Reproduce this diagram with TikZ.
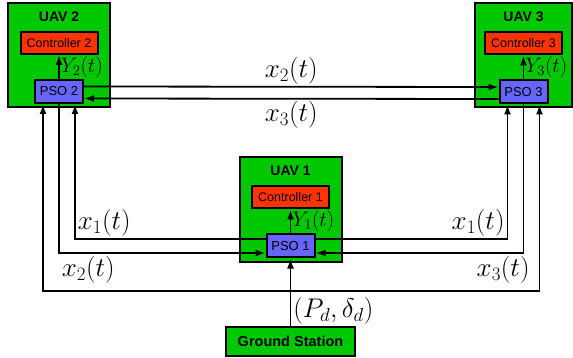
\RequirePackage{fix-cm}
\documentclass[tikz,border=0pt]{standalone}
\usepackage{fontspec}
\setmainfont{Liberation Sans}
\usepackage{xcolor}
\usepackage{tikz}
\usetikzlibrary{positioning,arrows.meta,calc}

\definecolor{uavgreen}{RGB}{0,200,0}
\definecolor{ctrlred}{RGB}{255,51,0}
\definecolor{psoblue}{RGB}{102,102,255}

\begin{document}
\begin{tikzpicture}[x=1pt, y=-1pt,
  uavbox/.style={rectangle, draw, fill=uavgreen, line width=2pt, minimum width=102pt, minimum height=104pt},
  uavtitle/.style={inner sep=0pt, font=\fontsize{14}{16}\selectfont\bfseries},
  ctrlbox/.style={rectangle, draw, fill=ctrlred, line width=2pt, minimum width=77pt, minimum height=22pt, inner sep=0pt, font=\fontsize{12.5}{14}\selectfont},
  psobox/.style={rectangle, draw, fill=psoblue, line width=2pt, minimum width=48pt, minimum height=23pt, inner sep=0pt, font=\fontsize{13}{14}\selectfont},
  gsbox/.style={rectangle, draw, fill=uavgreen, line width=2pt, minimum width=129pt, minimum height=29pt, inner sep=0pt, font=\fontsize{14.5}{16}\selectfont\bfseries},
  arrow/.style={-{Latex[length=10pt, width=7pt]}, line width=1.8pt},
  siglabel/.style={inner sep=2pt, font=\fontsize{27}{30}\selectfont},
  outlabel/.style={inner sep=1pt, font=\fontsize{21}{24}\selectfont}
  ]
  \useasboundingbox (0,0) rectangle (573,358);

  % the three UAVs
  \node[uavbox] (uav2) at (59,55) {};
  \node[ctrlbox, below=29pt of uav2.north] (ctrl2) {Controller 2};
  \node[psobox, below=24pt of ctrl2] (pso2) {PSO 2};
  \node[uavtitle] (name2) at ($(uav2.north)!.5!(ctrl2.north)$) {UAV 2};

  \node[uavbox, minimum width=97pt] (uav3) at (523.5,55.5) {};
  \node[ctrlbox, below=29pt of uav3.north] (ctrl3) {Controller 3};
  \node[psobox, below=24pt of ctrl3] (pso3) {PSO 3};
  \node[uavtitle] (name3) at ($(uav3.north)!.5!(ctrl3.north)$) {UAV 3};

  \node[uavbox] (uav1) at (290.5,209.5) {};
  \node[ctrlbox, below=29pt of uav1.north] (ctrl1) {Controller 1};
  \node[psobox, below=24pt of ctrl1] (pso1) {PSO 1};
  \node[uavtitle] (name1) at ($(uav1.north)!.5!(ctrl1.north)$) {UAV 1};

  \node[gsbox] (gs) at (290.5,341) {Ground Station};
  \coordinate (bus) at (gs.north |- 0,291);

  % PSO -> controller
  \draw[arrow] (pso2) -- node[midway, right, outlabel] (y2) {$Y_2(t)$} (ctrl2);
  \draw[arrow] (pso3) -- node[midway, right, outlabel] (y3) {$Y_3(t)$} (ctrl3);
  \draw[arrow] (pso1) -- node[midway, right, outlabel] (y1) {$Y_1(t)$} (ctrl1);

  % ground station
  \draw[arrow] (gs) -- node[pos=0.22, right, siglabel] (pd) {$(P_d,\delta_d)$} (pso1);
  \draw[arrow] (bus) -| ([xshift=-16pt]pso2.south);
  \draw[arrow] (bus) -| ([xshift=16pt]pso3.south);

  % exchange between the PSOs
  \draw[arrow] ([yshift=5pt]pso2.east) -- node[midway, above, siglabel] (top2) {$x_2(t)$} ([yshift=5pt]pso3.west);
  \draw[arrow] ([yshift=-7pt]pso3.west) -- node[midway, below, siglabel] (top3) {$x_3(t)$} ([yshift=-7pt]pso2.east);
  \draw[arrow] ([yshift=7pt]pso1.west) -| node[pos=0.5, above right, siglabel] (l1a) {$x_1(t)$} ([xshift=16pt]pso2.south);
  \draw[arrow] ([yshift=7pt]pso1.east) -| node[pos=0.5, above left, siglabel] (l1b) {$x_1(t)$} ([xshift=-16pt]pso3.south);
  \draw[arrow] (pso2.south) |- node[pos=0.5, below right, siglabel] (l2) {$x_2(t)$} ([yshift=-7pt]pso1.west);
  \draw[arrow] (pso3.south) |- node[pos=0.5, below left, xshift=9pt, siglabel] (l3) {$x_3(t)$} ([yshift=-7pt]pso1.east);
\end{tikzpicture}
\end{document}
